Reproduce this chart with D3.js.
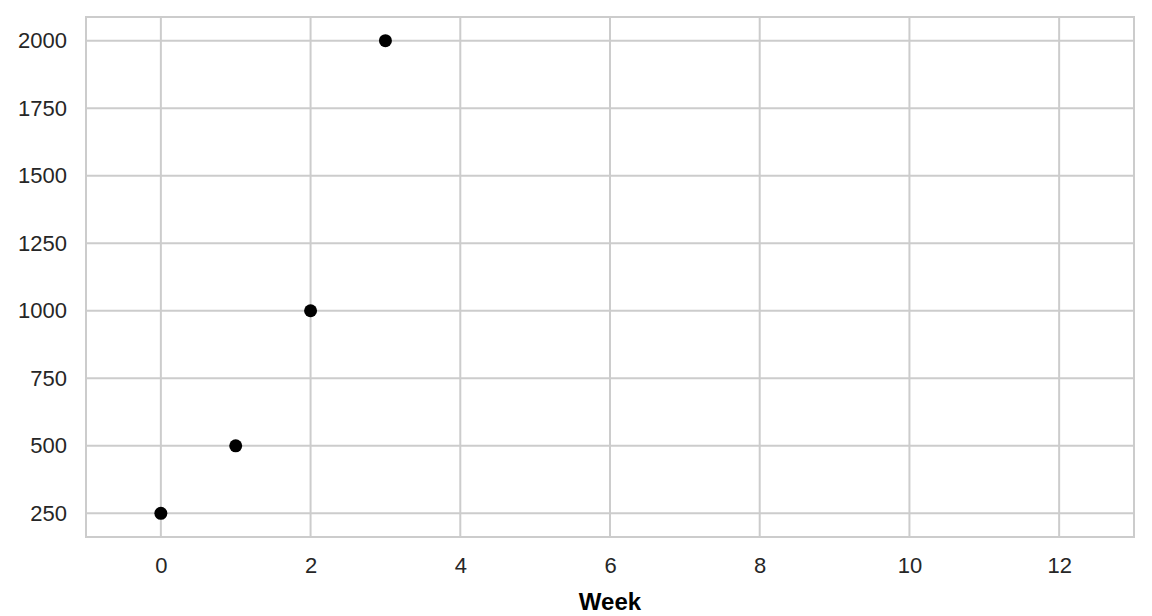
<!DOCTYPE html>
<html>
<head>
<meta charset="utf-8">
<script src="https://cdn.jsdelivr.net/npm/d3@7"></script>
<style>
	body { margin: 0; background: #fff; }
	svg text { font-family: "Liberation Sans", Arial, sans-serif; }
</style>
</head>
<body>
<svg id="viz"></svg>
<script>
// data
const weeks = [0, 1, 2, 3];
const counts = [250, 500, 1000, 2000];
const xTicks = [0, 2, 4, 6, 8, 10, 12];
const yTicks = [250, 500, 750, 1000, 1250, 1500, 1750, 2000];

const width = 1152;
const height = 616;

const margin = { top: 17, right: 18, bottom: 79, left: 86 };
const plotWidth = width - margin.left - margin.right;
const plotHeight = height - margin.top - margin.bottom;

let translate = function(x, y) {
	return 'translate(' + x + ',' + y + ')';
}

const svg = d3.select("svg#viz")
	.attr("width", width)
	.attr("height", height);

const plot = svg.append("g").attr("id", "plot")
	.attr("transform", translate(margin.left, margin.top));

const x = d3.scaleLinear()
	.domain([-1, 13])
	.range([0, plotWidth]);

// matplotlib style 5% padding on the y range
const yPad = (d3.max(counts) - d3.min(counts)) * 0.05;
const y = d3.scaleLinear()
	.domain([d3.min(counts) - yPad, d3.max(counts) + yPad])
	.range([plotHeight, 0]);

const gridColor = "#cccccc";

// grid lines
plot.append("g").attr("id", "x-grid")
	.selectAll("line")
	.data(xTicks)
	.join("line")
	.attr("x1", d => x(d)).attr("x2", d => x(d))
	.attr("y1", 0).attr("y2", plotHeight)
	.attr("stroke", gridColor)
	.attr("stroke-width", 2);

plot.append("g").attr("id", "y-grid")
	.selectAll("line")
	.data(yTicks)
	.join("line")
	.attr("x1", 0).attr("x2", plotWidth)
	.attr("y1", d => y(d)).attr("y2", d => y(d))
	.attr("stroke", gridColor)
	.attr("stroke-width", 2);

// frame
plot.append("rect")
	.attr("width", plotWidth)
	.attr("height", plotHeight)
	.attr("fill", "none")
	.attr("stroke", gridColor)
	.attr("stroke-width", 2);

// axes (ticks hidden, just labels)
let xAxis = d3.axisBottom(x).tickValues(xTicks).tickSize(0).tickPadding(20).tickFormat(d3.format("d"));
plot.append("g")
	.attr("id", "x-axis")
	.attr("transform", translate(0, plotHeight))
	.call(xAxis)
	.call(g => g.select(".domain").remove())
	.selectAll("text")
	.attr("font-size", 22)
	.attr("fill", "#262626");

let yAxis = d3.axisLeft(y).tickValues(yTicks).tickSize(0).tickPadding(19).tickFormat(d3.format("d"));
plot.append("g")
	.attr("id", "y-axis")
	.call(yAxis)
	.call(g => g.select(".domain").remove())
	.selectAll("text")
	.attr("font-size", 22)
	.attr("fill", "#262626");

// axis label
svg.append("text")
	.attr("x", margin.left + plotWidth / 2)
	.attr("y", 610)
	.attr("text-anchor", "middle")
	.attr("font-size", 24)
	.attr("font-weight", "bold")
	.attr("fill", "#000")
	.text("Week");

// points
plot.append("g").attr("id", "points")
	.selectAll("circle")
	.data(weeks.map((w, i) => ({ week: w, count: counts[i] })))
	.join("circle")
	.attr("cx", d => x(d.week))
	.attr("cy", d => y(d.count))
	.attr("r", 6.5)
	.attr("fill", "#000");
</script>
</body>
</html>
